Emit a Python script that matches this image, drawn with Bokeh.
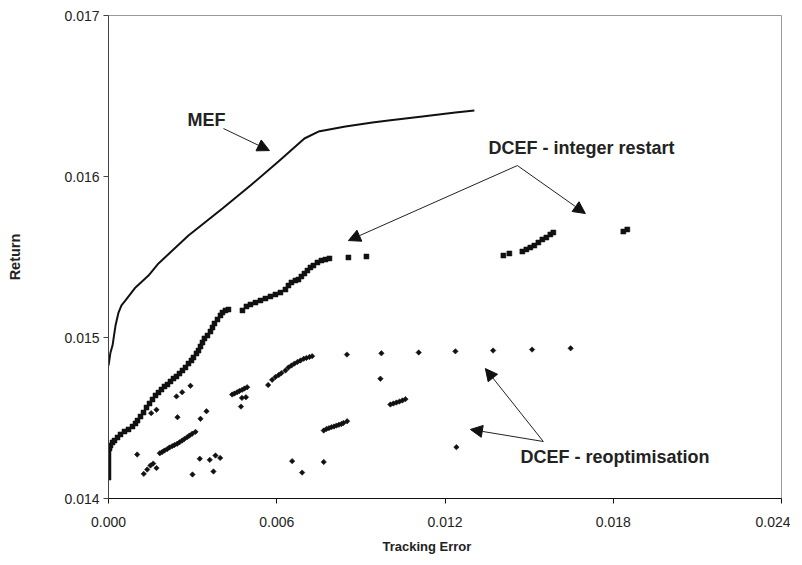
from bokeh.plotting import figure
from bokeh.models import (Range1d, FixedTicker, PrintfTickFormatter, Arrow,
                          NormalHead, Label, Title)
from bokeh.embed import file_html
from bokeh.resources import INLINE
import math

# ---------------- data ----------------
mef_te = [0.0, 0.0000713, 0.000143, 0.00025, 0.000357, 0.000463, 0.000606,
          0.000963, 0.001426, 0.001783, 0.002852, 0.004064, 0.005062,
          0.006061, 0.006987, 0.007487, 0.008449, 0.009412, 0.009982,
          0.011194, 0.012371, 0.013048]
mef_ret = [0.014826, 0.014907, 0.014950, 0.015074, 0.015155, 0.015199,
           0.015230, 0.015311, 0.015385, 0.015460, 0.015633, 0.015801,
           0.015944, 0.016093, 0.016236, 0.016279, 0.016311, 0.016335,
           0.016348, 0.016373, 0.016397, 0.016410]

restart_te = [0.0, 0.0, 0.0, 0.0, 0.0, 0.0, 0.0000357, 0.0000713, 0.000143,
              0.000214, 0.000321, 0.000428, 0.000570, 0.000713, 0.000856,
              0.000963, 0.001034, 0.001141, 0.001248, 0.001355, 0.001462,
              0.001569, 0.001676, 0.001783, 0.001889, 0.001996, 0.002103,
              0.002210, 0.002317, 0.002424, 0.002531, 0.002638, 0.002745,
              0.002852, 0.002959, 0.003030, 0.003137, 0.003209, 0.003280,
              0.003351, 0.003422, 0.003529, 0.003636, 0.003708, 0.003779,
              0.003886, 0.003993, 0.004064, 0.004171, 0.004278, 0.004777,
              0.004920, 0.005062, 0.005241, 0.005419, 0.005597, 0.005775,
              0.005954, 0.006132, 0.006310, 0.006417, 0.006524, 0.006667,
              0.006774, 0.006880, 0.006987, 0.007094, 0.007201, 0.007308,
              0.007451, 0.007593, 0.007736, 0.007879, 0.008556, 0.009198,
              0.014082, 0.014296, 0.014759, 0.014902, 0.015044, 0.015187,
              0.015330, 0.015472, 0.015615, 0.015757, 0.015864, 0.018360,
              0.018502]
restart_ret = [0.014130, 0.014161, 0.014193, 0.014224, 0.014255, 0.014286,
               0.014311, 0.014329, 0.014348, 0.014360, 0.014379, 0.014398,
               0.014416, 0.014429, 0.014447, 0.014466, 0.014484, 0.014509,
               0.014534, 0.014565, 0.014590, 0.014615, 0.014640, 0.014658,
               0.014677, 0.014696, 0.014708, 0.014727, 0.014745, 0.014758,
               0.014776, 0.014795, 0.014814, 0.014838, 0.014857, 0.014876,
               0.014901, 0.014919, 0.014944, 0.014969, 0.014994, 0.015012,
               0.015037, 0.015062, 0.015087, 0.015112, 0.015137, 0.015155,
               0.015168, 0.015174, 0.015168, 0.015193, 0.015205, 0.015217,
               0.015230, 0.015242, 0.015255, 0.015267, 0.015279, 0.015298,
               0.015323, 0.015342, 0.015354, 0.015360, 0.015379, 0.015397,
               0.015416, 0.015435, 0.015447, 0.015466, 0.015478, 0.015484,
               0.015491, 0.015497, 0.015503, 0.015509, 0.015522, 0.015534,
               0.015547, 0.015559, 0.015571, 0.015590, 0.015609, 0.015621,
               0.015640, 0.015652, 0.015658, 0.015671]

reopt_te = [0.001023, 0.001258, 0.001380, 0.001497, 0.001594, 0.001711,
            0.001522, 0.001711, 0.001829, 0.001914, 0.001996, 0.002093,
            0.002175, 0.002271, 0.002353, 0.002449, 0.002531, 0.002627,
            0.002709, 0.002806, 0.002888, 0.002984, 0.003102, 0.002424,
            0.002627, 0.002923, 0.002460, 0.002995, 0.003255, 0.003280,
            0.003494, 0.003611, 0.003815, 0.003982, 0.003743, 0.004410,
            0.004492, 0.004588, 0.004670, 0.004766, 0.004848, 0.004945,
            0.004724, 0.004759, 0.004902, 0.005693, 0.005836, 0.005954,
            0.006071, 0.006167, 0.006310, 0.006417, 0.006524, 0.006631,
            0.006738, 0.006845, 0.006962, 0.007059, 0.007166, 0.007262,
            0.008503, 0.009732, 0.011062, 0.012371, 0.013715, 0.015105,
            0.016481, 0.009697, 0.010053, 0.010160, 0.010267, 0.010374,
            0.010481, 0.010588, 0.007675, 0.007772, 0.007861, 0.007950,
            0.008039, 0.008128, 0.008217, 0.008306, 0.008378, 0.008510,
            0.006549, 0.006905, 0.007675, 0.012406]
reopt_ret = [0.014273, 0.014153, 0.014180, 0.014205, 0.014217, 0.014189,
             0.014530, 0.014551, 0.014281, 0.014289, 0.014298, 0.014307,
             0.014317, 0.014325, 0.014332, 0.014340, 0.014349, 0.014360,
             0.014370, 0.014381, 0.014391, 0.014402, 0.014414, 0.014634,
             0.014660, 0.014700, 0.014505, 0.014149, 0.014247, 0.014495,
             0.014542, 0.014240, 0.014267, 0.014252, 0.014168, 0.014646,
             0.014652, 0.014660, 0.014668, 0.014675, 0.014683, 0.014691,
             0.014571, 0.014625, 0.014629, 0.014705, 0.014737, 0.014755,
             0.014767, 0.014779, 0.014795, 0.014814, 0.014826, 0.014838,
             0.014848, 0.014857, 0.014868, 0.014873, 0.014879, 0.014884,
             0.014894, 0.014902, 0.014907, 0.014914, 0.014919, 0.014925,
             0.014933, 0.014744, 0.014584, 0.014590, 0.014596, 0.014602,
             0.014609, 0.014617, 0.014422, 0.014432, 0.014437, 0.014443,
             0.014447, 0.014453, 0.014458, 0.014463, 0.014469, 0.014480,
             0.014232, 0.014161, 0.014227, 0.014319]

x_ticks = [0.0, 0.006, 0.012, 0.018, 0.024]
y_ticks = [0.014, 0.015, 0.016, 0.017]

FONT = "Liberation Sans"
INK = "#111111"

p = figure(width=790, height=562, output_backend="svg", toolbar_location=None,
           x_range=Range1d(0.0, 0.024), y_range=Range1d(0.014, 0.017),
           min_border_left=108, min_border_right=9, min_border_top=15,
           min_border_bottom=64)
p.grid.visible = False
p.background_fill_color = "white"
p.border_fill_color = "white"
p.outline_line_color = "#9a9a9a"
p.outline_line_width = 1

p.xaxis.ticker = FixedTicker(ticks=x_ticks)
p.yaxis.ticker = FixedTicker(ticks=y_ticks)
p.xaxis.formatter = PrintfTickFormatter(format="%.3f")
p.yaxis.formatter = PrintfTickFormatter(format="%.3f")
for ax in (p.xaxis, p.yaxis):
    ax.minor_tick_line_color = None
    ax.major_tick_in = 0
    ax.major_tick_out = 5
    ax.major_label_text_font = FONT
    ax.major_label_text_font_size = "14px"
    ax.major_label_text_color = "#222222"
    ax.axis_label_text_font = FONT
    ax.axis_label_text_font_style = "bold"
    ax.axis_label_text_color = "#222222"
p.xaxis.axis_line_color = INK
p.xaxis.major_tick_line_color = INK
p.yaxis.axis_line_color = "#444444"
p.yaxis.major_tick_line_color = "#444444"
p.yaxis.axis_label = "Return"
p.yaxis.axis_label_text_font_size = "14.5px"
p.xaxis.major_label_standoff = 13
p.yaxis.major_label_standoff = 4
p.yaxis.axis_label_standoff = 38

# x-axis title, set slightly left of centre as in the original
p.add_layout(Title(text="Tracking Error", align="left", offset=274,
                   text_font=FONT, text_font_style="bold",
                   text_font_size="13px", text_color="#222222",
                   standoff=14), "below")

# MEF line
p.line(mef_te, mef_ret, line_color=INK, line_width=2)

# DCEF - integer restart (squares)
p.scatter(restart_te, restart_ret, marker="square", size=5,
          fill_color=INK, line_color=INK, line_width=0.5)

# DCEF - reoptimisation (diamonds)
p.scatter(reopt_te, reopt_ret, marker="square", size=3.8, angle=math.pi / 4,
          fill_color=INK, line_color=INK, line_width=0.6)

# ---------------- annotations ----------------
def arrow(x0, y0, x1, y1):
    p.add_layout(Arrow(end=NormalHead(size=12, fill_color=INK, line_color=INK,
                                      line_width=1),
                       x_start=x0, y_start=y0, x_end=x1, y_end=y1,
                       line_color="#222222", line_width=1))

def label(x, y, txt):
    p.add_layout(Label(x=x, y=y, text=txt, text_font=FONT,
                       text_font_style="bold", text_font_size="18px",
                       text_color="#222222", text_baseline="middle",
                       text_align="left"))

label(0.00282, 0.016348, "MEF")
arrow(0.0041, 0.016298, 0.00574, 0.016161)

label(0.01355, 0.016174, "DCEF - integer restart")
arrow(0.01458, 0.016068, 0.008556, 0.015602)
arrow(0.01458, 0.016068, 0.017005, 0.015770)

label(0.01469, 0.014255, "DCEF - reoptimisation")
arrow(0.015507, 0.014354, 0.012905, 0.014429)
arrow(0.015507, 0.014354, 0.01344, 0.014807)

open("out.html", "w").write(file_html(p, INLINE))
